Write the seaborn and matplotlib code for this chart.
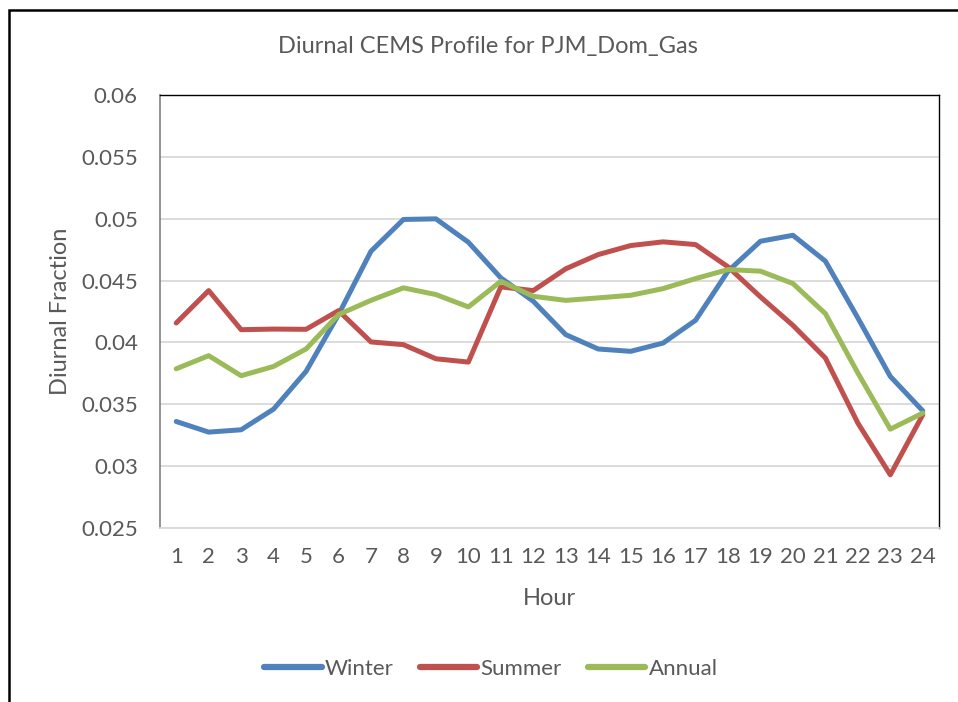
import matplotlib
matplotlib.use("Agg")
import matplotlib.pyplot as plt
import matplotlib.patches as mpatches
import seaborn as sns
import pandas as pd

hours = list(range(1, 25))
winter = [0.03361, 0.03275, 0.03294, 0.03461, 0.03766, 0.04225, 0.04737, 0.04994,
          0.04999, 0.04810, 0.04522, 0.04333, 0.04063, 0.03947, 0.03928, 0.03995,
          0.04179, 0.04576, 0.04818, 0.04866, 0.04657, 0.04198, 0.03725, 0.03447]
summer = [0.04157, 0.04419, 0.04103, 0.04108, 0.04106, 0.04257, 0.04004, 0.03982,
          0.03868, 0.03841, 0.04449, 0.04419, 0.04595, 0.04710, 0.04783, 0.04813,
          0.04791, 0.04611, 0.04368, 0.04138, 0.03874, 0.03348, 0.02930, 0.03415]
annual = [0.03787, 0.03893, 0.03731, 0.03806, 0.03947, 0.04225, 0.04340, 0.04441,
          0.04387, 0.04287, 0.04494, 0.04373, 0.04340, 0.04360, 0.04381, 0.04435,
          0.04516, 0.04589, 0.04576, 0.04476, 0.04233, 0.03753, 0.03299, 0.03429]
series_names = ["Winter", "Summer", "Annual"]
colors = ["#4F81BD", "#C0504D", "#9BBB59"]
y_ticks = [0.025, 0.03, 0.035, 0.04, 0.045, 0.05, 0.055, 0.06]
y_tick_labels = ["0.025", "0.03", "0.035", "0.04", "0.045", "0.05", "0.055", "0.06"]

df = pd.DataFrame({
    "Hour": hours * 3,
    "Value": winter + summer + annual,
    "Series": [s for s in series_names for _ in hours],
})

sns.set_theme(style="white")
plt.rcParams["font.family"] = ["Lato", "DejaVu Sans"]
txt = "#595959"

fig = plt.figure(figsize=(9.58, 7.02), dpi=100)
ax = fig.add_axes([160 / 958, 1 - 528 / 702, 779 / 958, 433 / 702])

sns.lineplot(data=df, x="Hour", y="Value", hue="Series", hue_order=series_names,
             palette=colors, linewidth=3.6, ax=ax, legend=True,
             solid_capstyle="round", solid_joinstyle="round")

ax.set_xlim(0.5, 24.5)
ax.set_ylim(0.025, 0.06)
ax.set_yticks(y_ticks)
ax.set_yticklabels(y_tick_labels)
ax.set_xticks(hours)
ax.set_xticklabels([str(h) for h in hours])
ax.tick_params(axis="both", labelsize=16, colors=txt, length=0)
ax.tick_params(axis="y", pad=16)
ax.tick_params(axis="x", pad=14)
ax.grid(axis="y", color="#D9D9D9", linewidth=1.3)
ax.set_axisbelow(True)
for s in ["top", "right"]:
    ax.spines[s].set_color("#000000")
    ax.spines[s].set_linewidth(1.0)
ax.spines["left"].set_color("#808080")
ax.spines["left"].set_linewidth(1.2)
ax.spines["bottom"].set_color("#D9D9D9")
ax.spines["bottom"].set_linewidth(1.3)

ax.set_xlabel("Hour", fontsize=17, color=txt, labelpad=15)
ax.set_ylabel("Diurnal Fraction", fontsize=17, color=txt, labelpad=7)
fig.text(488 / 958, 1 - 47 / 702, "Diurnal CEMS Profile for PJM_Dom_Gas",
         fontsize=17, color=txt, ha="center", va="center")

handles, labels = ax.get_legend_handles_labels()
ax.get_legend().remove()
leg = fig.legend(handles, labels, loc="center", bbox_to_anchor=(491 / 958, 1 - 669 / 702),
                 ncol=3, frameon=False, fontsize=16, handlelength=2.57,
                 handletextpad=0.14, columnspacing=1.2)
for t in leg.get_texts():
    t.set_color(txt)
for l in leg.get_lines():
    l.set_linewidth(4.5)
    l.set_solid_capstyle("round")

border = mpatches.Rectangle((8.5 / 958, -0.1), 1.2, 1 - 9.5 / 702 + 0.1,
                            transform=fig.transFigure, fill=False,
                            edgecolor="black", linewidth=1.8, clip_on=False)
fig.patches.append(border)

fig.savefig("out.png", dpi=100, facecolor="white")
